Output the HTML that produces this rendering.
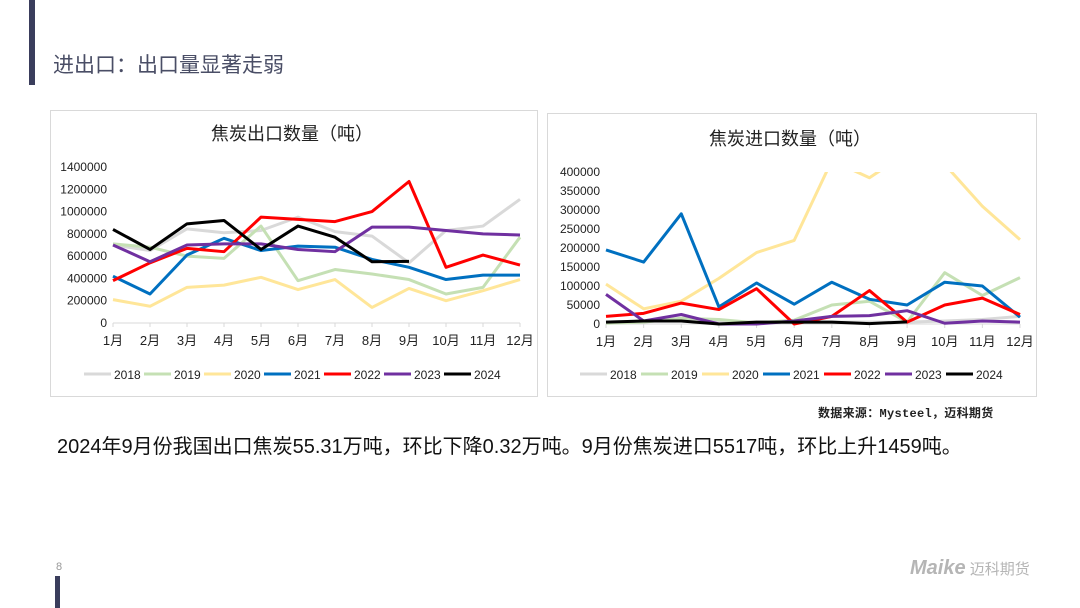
<!DOCTYPE html>
<html><head><meta charset="utf-8">
<style>
body{margin:0;width:1080px;height:608px;background:#fff;overflow:hidden;position:relative;font-family:"Liberation Sans","Noto Sans CJK SC",sans-serif}
.abs{position:absolute}
</style></head><body>
<div class="abs" style="left:29px;top:0;width:6px;height:85px;background:#3a3d5c"></div>
<div class="abs" style="left:53px;top:49px;font-size:21px;color:#4a4e66">进出口：出口量显著走弱</div>
<div class="abs" style="left:50px;top:110px;width:486px;height:285px;border:1px solid #d9d9d9"></div>
<div class="abs" style="left:547px;top:113px;width:488px;height:282px;border:1px solid #d9d9d9"></div>
<svg class="abs" style="left:0;top:0" width="1080" height="608" id="svg"></svg>
<div class="abs" style="left:818px;top:404px;font-size:12px;font-weight:bold;color:#222;font-family:'Liberation Mono','Noto Sans CJK SC',monospace;letter-spacing:0.3px">数据来源：Mysteel，迈科期货</div>
<div class="abs" style="left:57px;top:430px;font-size:20px;color:#111">2024年9月份我国出口焦炭55.31万吨，环比下降0.32万吨。9月份焦炭进口5517吨，环比上升1459吨。</div>
<div class="abs" style="left:56px;top:561px;font-size:11px;color:#999">8</div>
<div class="abs" style="left:55px;top:576px;width:5px;height:32px;background:#3a3d5c"></div>
<div class="abs" style="left:910px;top:557px;font-size:20px;font-style:italic;font-weight:bold;color:#b5b5b5">Maike<span style="font-size:15px;font-style:normal;font-weight:normal"> 迈科期货</span></div>
<script>
const months=['1月','2月','3月','4月','5月','6月','7月','8月','9月','10月','11月','12月'];
const years=['2018','2019','2020','2021','2022','2023','2024'];
const colors=['#d9d9d9','#c5e0b4','#ffe699','#0070c0','#ff0000','#7030a0','#000000'];
const exportTicks=[0,200000,400000,600000,800000,1000000,1200000,1400000];
const importTicks=[0,50000,100000,150000,200000,250000,300000,350000,400000];
const exp2018=[700000,650000,845000,810000,830000,950000,820000,780000,540000,830000,870000,1110000];
const exp2019=[710000,680000,600000,580000,870000,380000,480000,440000,390000,260000,320000,770000];
const exp2020=[210000,150000,320000,340000,410000,300000,390000,140000,310000,200000,290000,390000];
const exp2021=[420000,260000,610000,760000,650000,690000,680000,570000,500000,390000,430000,430000];
const exp2022=[380000,540000,670000,640000,950000,930000,910000,1000000,1270000,500000,610000,520000];
const exp2023=[700000,550000,700000,710000,710000,660000,640000,860000,860000,830000,800000,790000];
const exp2024=[840000,660000,890000,920000,660000,870000,770000,550000,553100];
const imp2018=[5000,8000,10000,5000,5000,5000,5000,5000,5000,8000,12000,20000];
const imp2019=[2000,5000,15000,12000,3000,10000,50000,60000,5000,135000,75000,122000];
const imp2020=[105000,40000,60000,120000,188000,220000,430000,385000,450000,420000,310000,222000];
const imp2021=[195000,163000,290000,45000,108000,52000,110000,65000,50000,110000,100000,18000];
const imp2022=[20000,28000,55000,38000,93000,0,20000,88000,5000,50000,68000,25000];
const imp2023=[78000,8000,25000,0,0,8000,20000,22000,35000,2000,8000,5000];
const imp2024=[5000,8000,8000,0,5000,5000,5000,1000,5517];
const exportSeries=[exp2018,exp2019,exp2020,exp2021,exp2022,exp2023,exp2024];
const importSeries=[imp2018,imp2019,imp2020,imp2021,imp2022,imp2023,imp2024];
const NS='http://www.w3.org/2000/svg';
const svg=document.getElementById('svg');
function mk(tag,attrs,parent){const e=document.createElementNS(NS,tag);for(const k in attrs)e.setAttribute(k,attrs[k]);(parent||svg).appendChild(e);return e;}
function chart(id,cfg,series,ticks){
  const g=mk('g',{});
  
  
  const x=i=>cfg.x0+(cfg.x1-cfg.x0)*i/11;
  const y=v=>cfg.y0-(cfg.y0-cfg.yT)*v/cfg.max;
  const t=mk('text',{x:cfg.tx,y:cfg.ty,'text-anchor':'middle','font-size':18,fill:'#222'},g);t.textContent=cfg.title;
  
  
  ticks.forEach(v=>{const e=mk('text',{x:cfg.x0-6,y:y(v)+4,'text-anchor':'end','font-size':12,fill:'#222'},g);e.textContent=v;
    
    });
  mk('line',{x1:cfg.x0,x2:cfg.x1,y1:cfg.y0,y2:cfg.y0,stroke:'#d9d9d9'},g);
  months.forEach((m,i)=>{mk('line',{x1:x(i),x2:x(i),y1:cfg.y0,y2:cfg.y0+4,stroke:'#d9d9d9'},g);
    const e=mk('text',{x:x(i),y:cfg.y0+22,'text-anchor':'middle','font-size':13,fill:'#222'},g);e.textContent=m;
    
    });
  const cp=mk('clipPath',{id:'cp'+id},g);mk('rect',{x:cfg.x0-5,y:cfg.yT,width:cfg.x1-cfg.x0+10,height:cfg.y0-cfg.yT+10},cp);
  series.forEach((s,k)=>{const p=mk('polyline',{points:s.map((v,i)=>x(i)+','+y(v)).join(' '),fill:'none',stroke:colors[k],'stroke-width':3,'stroke-linejoin':'round','clip-path':'url(#cp'+id+')'},g);
    
    });
  years.forEach((yr,k)=>{const lx=cfg.lx+k*cfg.ls;
    mk('line',{x1:lx,x2:lx+27,y1:cfg.ly,y2:cfg.ly,stroke:colors[k],'stroke-width':3},g);
    const e=mk('text',{x:lx+30,y:cfg.ly+5,'font-size':12,fill:'#222'},g);e.textContent=yr;
    
    });
}
chart('export',{x0:113,x1:520,y0:323,yT:167,max:1400000,title:'焦炭出口数量（吨）',tx:292,ty:140,lx:84,ly:374,ls:60},exportSeries,exportTicks);
chart('import',{x0:606,x1:1020,y0:324,yT:172,max:400000,title:'焦炭进口数量（吨）',tx:790,ty:145,lx:580,ly:374,ls:61},importSeries,importTicks);
</script>
</body></html>
